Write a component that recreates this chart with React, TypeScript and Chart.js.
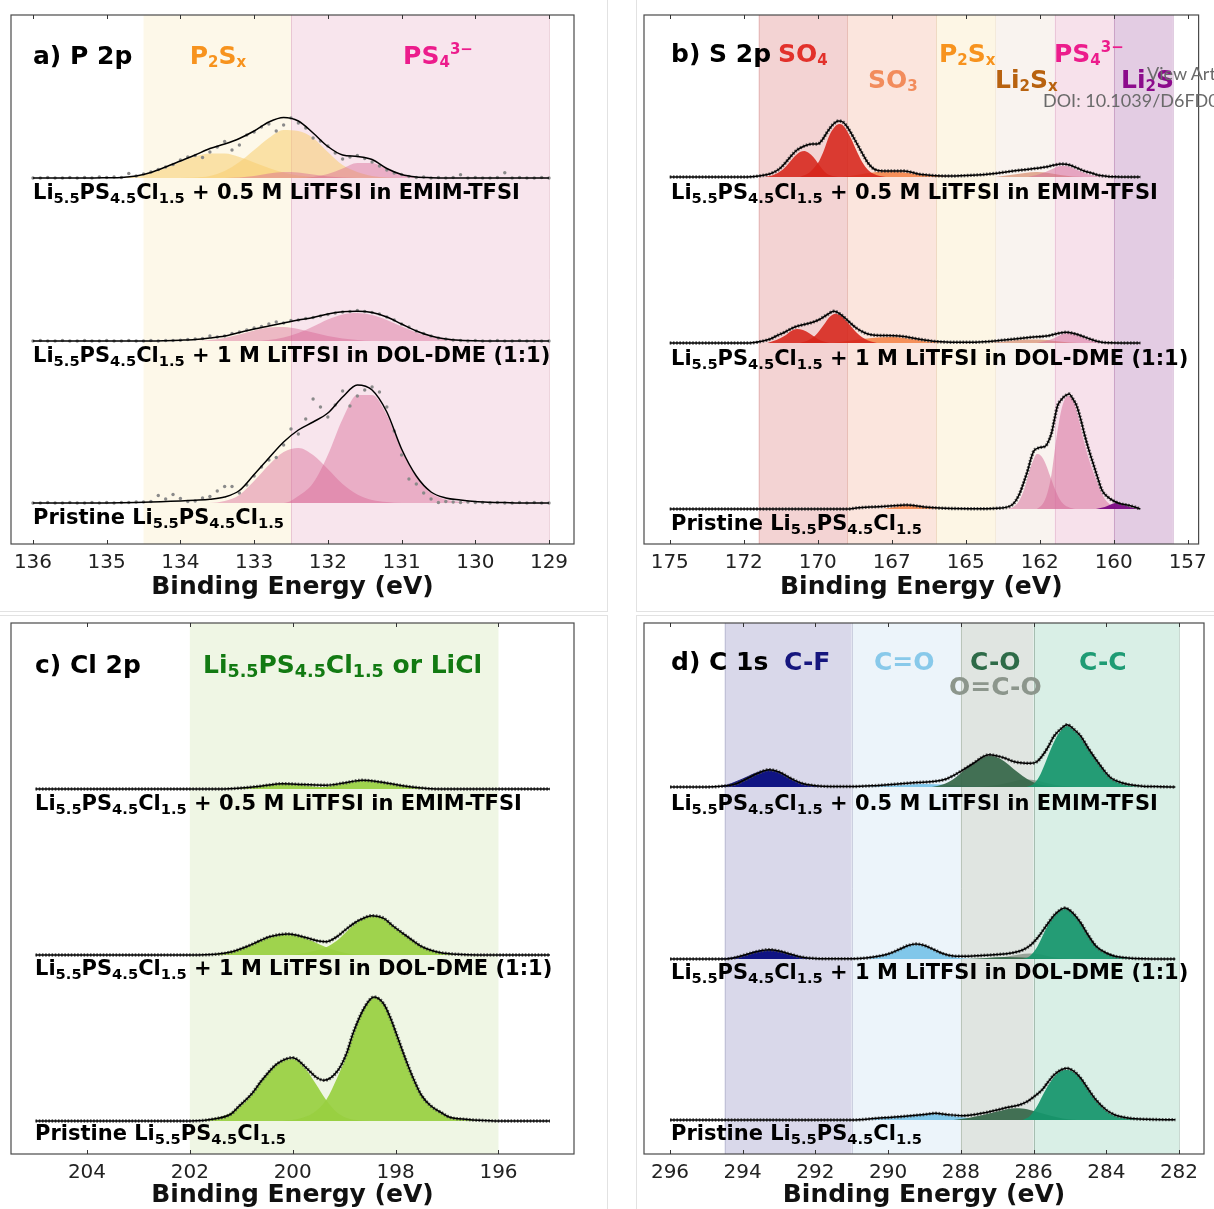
import React, { useEffect, useRef } from 'react';
import { Chart, registerables } from 'chart.js';

Chart.register(...registerables);

const FONT = '"DejaVu Sans", "Liberation Sans", sans-serif';
type Pair = [number, number];
type Seg = [string, string?];

// ======================= Panel a : P 2p =======================
const aEnergy = [136.0, 135.8, 135.6, 135.4, 135.2, 135.0, 134.8, 134.6, 134.4, 134.2, 134.0, 133.8, 133.6, 133.4, 133.2, 133.0, 132.8, 132.6, 132.4, 132.2, 132.0, 131.8, 131.6, 131.4, 131.2, 131.0, 130.8, 130.6, 130.4, 130.2, 130.0, 129.8, 129.6, 129.4, 129.2, 129.0];
const aDotEnergy = [136.0, 135.9, 135.8, 135.7, 135.6, 135.5, 135.4, 135.3, 135.2, 135.1, 135.0, 134.9, 134.8, 134.7, 134.6, 134.5, 134.4, 134.3, 134.2, 134.1, 134.0, 133.9, 133.8, 133.7, 133.6, 133.5, 133.4, 133.3, 133.2, 133.1, 133.0, 132.9, 132.8, 132.7, 132.6, 132.5, 132.4, 132.3, 132.2, 132.1, 132.0, 131.9, 131.8, 131.7, 131.6, 131.5, 131.4, 131.3, 131.2, 131.1, 131.0, 130.9, 130.8, 130.7, 130.6, 130.5, 130.4, 130.3, 130.2, 130.1, 130.0, 129.9, 129.8, 129.7, 129.6, 129.5, 129.4, 129.3, 129.2, 129.1, 129.0];
const aOffsetEmim = 366;
const aOffsetDol = 203;
const aOffsetPristine = 41;

const aEmimEnv = [0, 0, 0, 0, 0, 0.2, 0.5, 2, 5.5, 11, 17, 23, 29.5, 34, 39.5, 47, 56, 60.5, 57, 45, 31.5, 23, 21.5, 18.5, 9.5, 3.5, 1, 0.3, 0, 0, 0, 0, 0, 0, 0, 0];
const aEmimP2SxLow = [0, 0, 0, 0, 0, 0, 0.5, 2, 5, 10, 16, 21.5, 24.5, 24.5, 21, 15.5, 10, 5.5, 2.5, 1, 0, 0, 0, 0, 0, 0, 0, 0, 0, 0, 0, 0, 0, 0, 0, 0];
const aEmimP2SxHigh = [0, 0, 0, 0, 0, 0, 0, 0, 0, 0, 0, 0.5, 2, 7, 16, 28, 40, 48, 47, 40, 26, 13, 6, 2, 0.5, 0, 0, 0, 0, 0, 0, 0, 0, 0, 0, 0];
const aEmimPS4a = [0, 0, 0, 0, 0, 0, 0, 0, 0, 0, 0, 0, 0, 0, 0.5, 2, 4.5, 6, 5.5, 3.5, 1.5, 0.5, 0, 0, 0, 0, 0, 0, 0, 0, 0, 0, 0, 0, 0, 0];
const aEmimPS4b = [0, 0, 0, 0, 0, 0, 0, 0, 0, 0, 0, 0, 0, 0, 0, 0, 0, 0, 0, 1, 4, 9.5, 15, 15, 9, 3.5, 1, 0, 0, 0, 0, 0, 0, 0, 0, 0];
const aEmimDots = [0, 0, 0.5, 0, 0, 0.5, 0, 0.5, 0, 1, 0.5, 1, 0.5, 4.5, 2, 4, 6, 8.5, 11, 13.5, 18, 21, 22.5, 20.5, 26, 31, 36.5, 28, 33, 43, 46, 51, 54, 47, 53, 60, 55, 50, 40, 37, 32, 25, 19, 21, 22.5, 19.5, 16, 12, 8, 5, 3.5, 1.5, 0.5, 1, 0, 0.5, 0, 0.5, 3.3, 0, 0.5, 0, 0, 0.5, 5.3, 0, 0.5, 0, 0, 0.5, 0];

const aDolEnv = [0, 0, 0, 0, 0, 0, 0, 0, 0, 0.3, 0.8, 1.5, 3, 5, 8.5, 12, 15, 18, 21, 23.5, 27, 29.3, 29.8, 28.5, 24, 17, 10, 5, 2, 0.7, 0.2, 0, 0, 0, 0, 0];
const aDolPS4a = [0, 0, 0, 0, 0, 0, 0, 0, 0, 0, 0, 0, 1, 3, 6.5, 10.5, 13.5, 14, 12, 8.5, 5, 2.5, 1, 0, 0, 0, 0, 0, 0, 0, 0, 0, 0, 0, 0, 0];
const aDolPS4b = [0, 0, 0, 0, 0, 0, 0, 0, 0, 0, 0, 0, 0, 0, 0, 0, 1, 3.5, 8, 14.5, 21.5, 26.5, 28, 26, 21, 14.5, 8.5, 4, 1.5, 0.5, 0, 0, 0, 0, 0, 0];
const aDolDots = [0, 0.5, 0, 0, 0.5, 0, 0, 0.5, 0, 0, 0.5, 0, 0, 0.5, 0, 0, 0.5, 0, 0.5, 0.5, 0.8, 1.5, 2, 2.5, 5, 4, 5, 7.5, 9, 11, 13, 14.5, 17, 19, 18, 20.5, 21, 22.5, 23.5, 25, 26.5, 28, 29, 29.5, 30.5, 29.5, 28.5, 27, 24, 21, 17, 14, 10, 7.5, 5, 3, 2, 1, 0.5, 0, 0.5, 0, 0, 0.5, 0, 0, 0.5, 0, 0, 0, 0];

const aPristineEnv = [0, 0, 0, 0, 0, 0.1, 0.3, 0.6, 1, 1.5, 2, 2.7, 3.7, 6, 12.5, 28.5, 45, 61, 73, 81, 90, 106, 118, 113, 91, 54, 27, 11, 5, 3, 1.5, 0.8, 0.4, 0, 0, 0];
const aPristinePS4a = [0, 0, 0, 0, 0, 0, 0, 0, 0, 0, 0, 0, 0, 2, 8, 22, 38, 51, 55, 48, 34, 19, 8.5, 3, 1, 0, 0, 0, 0, 0, 0, 0, 0, 0, 0, 0];
const aPristinePS4b = [0, 0, 0, 0, 0, 0, 0, 0, 0, 0, 0, 0, 0, 0, 0, 0, 0, 0, 7, 20, 48, 84, 108, 108, 88, 53, 26, 10, 3.5, 1, 0, 0, 0, 0, 0, 0];
const aPristineDots = [0, 0, 0.5, 0, 0, 0.5, 0, 0, 0.5, 0, 0.5, 0, 0.5, 0.5, 1, 1, 1.5, 7.5, 4, 8.5, 4.5, 1.5, 2, 5, 6.5, 12, 16.5, 16.5, 10, 18, 27, 36, 43, 45.5, 58, 74, 69, 84, 104, 96, 86, 98, 112, 97, 107, 113, 116, 111, 96, 72, 48, 24, 19, 10, 4, 0.5, 1.5, 1, 0.5, 1, 0.5, 0.5, 0, 0.5, 0, 0, 0.5, 0, 0.5, 0, 0];

// ======================= Panel b : S 2p =======================
const bOffsetEmim = 367;
const bOffsetDol = 201;
const bOffsetPristine = 35;

const bEmimEnv: Pair[] = [[175.0, 0], [172.4, 0], [172.0, 1], [171.6, 3.3], [171.3, 8], [171.1, 14], [170.9, 21], [170.7, 27], [170.45, 31], [170.2, 33], [170.0, 33], [169.85, 37], [169.7, 44], [169.5, 52], [169.3, 56], [169.15, 55], [169.0, 50], [168.8, 40], [168.5, 24], [168.3, 14], [168.1, 8], [167.8, 6], [167.5, 6], [167.1, 6], [166.8, 4.5], [166.6, 3], [166.3, 2], [166.0, 1.3], [165.5, 1], [164.8, 1.7], [164.1, 3.3], [163.4, 6], [162.8, 8], [162.3, 10], [162.0, 12], [161.8, 13], [161.6, 12.8], [161.4, 11], [161.2, 8.5], [161.0, 6], [160.7, 3.5], [160.5, 1.7], [160.2, 0.6], [160.0, 0.3], [159.1, 0]];
const bEmimSO4a: Pair[] = [[171.8, 0], [171.5, 2], [171.2, 7], [171.0, 13], [170.8, 20], [170.6, 25], [170.45, 26], [170.3, 24], [170.15, 20], [170.0, 14], [169.85, 8], [169.7, 3.5], [169.5, 1], [169.3, 0]];
const bEmimSO4b: Pair[] = [[170.6, 0], [170.3, 4], [170.1, 10], [169.95, 16], [169.8, 26], [169.6, 42], [169.4, 51], [169.25, 53], [169.1, 50], [168.9, 40], [168.7, 27], [168.5, 15], [168.3, 7], [168.1, 3], [167.9, 1], [167.7, 0]];
const bEmimSO3: Pair[] = [[169.2, 0], [168.8, 1.5], [168.4, 3.5], [168.0, 5], [167.6, 5.5], [167.2, 5], [166.8, 3.5], [166.4, 2], [166.0, 1], [165.5, 0]];
const bEmimLi2Sx: Pair[] = [[164.0, 0], [163.5, 2], [163.0, 4], [162.6, 5], [162.2, 4], [161.8, 2], [161.4, 0.5], [161.0, 0]];
const bEmimPS4: Pair[] = [[162.9, 0], [162.6, 2], [162.3, 5], [162.0, 9], [161.8, 11], [161.6, 11], [161.4, 9], [161.2, 6.5], [161.0, 4], [160.7, 1.5], [160.4, 0.3], [160.2, 0]];

const bDolEnv: Pair[] = [[175.0, 0], [172.3, 0], [171.9, 1.7], [171.6, 4], [171.4, 7], [171.1, 11], [170.85, 15], [170.6, 17.5], [170.35, 19.3], [170.15, 21], [169.98, 23], [169.7, 28], [169.45, 31.7], [169.25, 29], [169.08, 25], [168.9, 20], [168.7, 15], [168.4, 10], [168.2, 8.3], [167.8, 7.5], [167.4, 7.3], [167.1, 6.5], [166.8, 5], [166.4, 3], [166.1, 1.7], [165.5, 0.8], [164.8, 0.7], [164.2, 1.5], [163.6, 3.3], [162.8, 5.7], [162.2, 7.3], [161.9, 9.5], [161.6, 10.7], [161.35, 9.5], [161.1, 7.3], [160.8, 4], [160.5, 1.3], [160.2, 0.3], [159.1, 0]];
const bDolSO4a: Pair[] = [[171.7, 0], [171.4, 3], [171.1, 7.5], [170.9, 12], [170.7, 14], [170.5, 13], [170.3, 10], [170.15, 7], [170.0, 4], [169.8, 1.5], [169.6, 0]];
const bDolSO4b: Pair[] = [[170.6, 0], [170.3, 3], [170.1, 7], [169.95, 12], [169.8, 18], [169.6, 26], [169.4, 29.3], [169.2, 27], [169.0, 21], [168.8, 14], [168.6, 8], [168.4, 4], [168.2, 1.5], [168.0, 0]];
const bDolSO3: Pair[] = [[169.5, 0], [169.0, 2], [168.5, 4], [168.0, 5.5], [167.6, 6], [167.2, 5.5], [166.8, 4], [166.4, 2], [166.0, 0.8], [165.5, 0]];
const bDolLi2Sx: Pair[] = [[164.2, 0], [163.6, 2], [163.0, 3.5], [162.5, 3.5], [162.0, 2], [161.5, 0.5], [161.2, 0]];
const bDolPS4: Pair[] = [[162.6, 0], [162.3, 2], [162.0, 5], [161.8, 8], [161.6, 10], [161.4, 9.5], [161.2, 7.5], [161.0, 5], [160.7, 2], [160.4, 0.5], [160.2, 0]];

const bPristineEnv: Pair[] = [[175.0, 0], [169.0, 0], [168.7, 1], [168.2, 2], [167.7, 2.7], [167.0, 4], [166.4, 2], [165.7, 0.7], [164.5, 0.3], [163.8, 1], [163.4, 5], [163.2, 14], [163.0, 30], [162.9, 39], [162.8, 50], [162.7, 58], [162.55, 61], [162.4, 62], [162.3, 63], [162.2, 68], [162.1, 76], [162.0, 90], [161.9, 103], [161.75, 110], [161.65, 113], [161.5, 115], [161.4, 111], [161.25, 103], [161.1, 88], [161.0, 76], [160.85, 60], [160.7, 46], [160.55, 32], [160.4, 19], [160.2, 12], [160.0, 8], [159.8, 5.5], [159.5, 3.7], [159.3, 2], [159.1, 0]];
const bPristineSO3: Pair[] = [[167.8, 0], [167.4, 2], [167.0, 3.5], [166.6, 2.5], [166.2, 1], [165.8, 0]];
const bPristinePS4a: Pair[] = [[163.6, 0], [163.4, 2], [163.2, 8], [163.0, 22], [162.85, 38], [162.7, 50], [162.6, 55], [162.45, 53], [162.3, 45], [162.15, 33], [162.0, 21], [161.85, 11], [161.7, 5], [161.5, 1.5], [161.3, 0]];
const bPristinePS4b: Pair[] = [[162.6, 0], [162.4, 5], [162.25, 15], [162.1, 35], [161.95, 68], [161.8, 95], [161.65, 110], [161.5, 113], [161.35, 107], [161.2, 92], [161.05, 73], [160.9, 56], [160.75, 42], [160.6, 30], [160.45, 19], [160.3, 10], [160.1, 4], [159.9, 1], [159.7, 0]];
const bPristineLi2S: Pair[] = [[160.6, 0], [160.3, 2], [160.1, 4.5], [159.95, 6], [159.8, 5.5], [159.6, 3.5], [159.4, 1.5], [159.2, 0.5], [159.1, 0]];

// ======================= Panel c : Cl 2p =======================
const cOffsetEmim = 365;
const cOffsetDol = 199;
const cOffsetPristine = 33;

const cEmimEnv: Pair[] = [[205.0, 0], [201.4, 0], [201.0, 1], [200.6, 3], [200.2, 5.3], [199.8, 4.5], [199.35, 3.7], [199.0, 6], [198.65, 8.7], [198.3, 7], [197.9, 3.5], [197.5, 1], [197.2, 0], [195.0, 0]];
const cEmimA: Pair[] = [[201.3, 0], [200.9, 1.5], [200.5, 3.8], [200.15, 5], [199.8, 3.8], [199.4, 1.5], [199.0, 0]];
const cEmimB: Pair[] = [[199.8, 0], [199.4, 2], [199.0, 5.5], [198.65, 8.5], [198.3, 6.5], [197.9, 3], [197.5, 0.8], [197.2, 0]];

const cDolEnv: Pair[] = [[205.0, 0], [202.0, 0], [201.5, 0.7], [201.2, 3], [200.9, 8.3], [200.65, 14], [200.45, 18.3], [200.1, 21], [199.9, 19.5], [199.7, 16.7], [199.5, 14], [199.35, 13.3], [199.15, 18], [198.98, 25], [198.8, 32], [198.67, 35.7], [198.46, 39.3], [198.23, 36.7], [198.05, 29], [197.86, 21.7], [197.6, 12], [197.49, 8.3], [197.3, 4.5], [197.12, 2.3], [196.8, 0.7], [196.4, 0], [195.0, 0]];
const cDolA: Pair[] = [[201.8, 0], [201.5, 1], [201.2, 3.5], [200.9, 8], [200.65, 13.5], [200.4, 18], [200.1, 20.5], [199.85, 18.5], [199.6, 13.5], [199.35, 7.7], [199.1, 3.5], [198.9, 1.2], [198.6, 0]];
const cDolB: Pair[] = [[200.0, 0], [199.7, 2.5], [199.5, 5], [199.35, 7.7], [199.15, 14], [198.98, 22], [198.8, 30.5], [198.6, 37], [198.45, 39], [198.25, 36.5], [198.05, 29], [197.86, 21.5], [197.6, 12], [197.4, 6.5], [197.2, 3], [196.9, 1], [196.6, 0]];

const cPristineEnv: Pair[] = [[205.0, 0], [202.0, 0], [201.5, 2.3], [201.2, 7], [201.06, 14], [200.8, 27], [200.6, 40.7], [200.3, 57.3], [200.0, 63.3], [199.72, 52.3], [199.55, 44], [199.39, 40.7], [199.12, 50.7], [198.95, 68], [198.83, 87.3], [198.6, 114], [198.42, 124], [198.23, 117], [198.1, 103], [197.94, 80.7], [197.8, 61], [197.64, 40.7], [197.5, 26], [197.33, 15.7], [197.1, 8], [196.96, 4], [196.6, 1.5], [196.38, 0.7], [196.0, 0], [195.0, 0]];
const cPristineA: Pair[] = [[202.0, 0], [201.6, 2], [201.3, 6], [201.06, 13], [200.8, 26], [200.6, 40], [200.3, 56.5], [200.0, 62], [199.75, 52], [199.55, 37], [199.35, 21], [199.15, 9], [198.95, 3], [198.7, 0.5], [198.5, 0]];
const cPristineB: Pair[] = [[200.2, 0], [199.9, 2], [199.6, 8], [199.35, 21], [199.12, 45], [198.95, 66], [198.83, 85], [198.6, 113], [198.42, 124], [198.23, 116.5], [198.1, 103], [197.94, 80], [197.8, 60], [197.64, 40], [197.5, 25.5], [197.33, 15], [197.1, 7], [196.9, 3], [196.6, 1], [196.3, 0]];

// ======================= Panel d : C 1s =======================
const dOffsetEmim = 367;
const dOffsetDol = 195;
const dOffsetPristine = 34;

const dEmimEnv: Pair[] = [[296.0, 0], [295.0, 0], [294.6, 0.7], [294.2, 3], [293.9, 8], [293.6, 13.5], [293.28, 17.3], [293.0, 15], [292.7, 9], [292.4, 4], [292.0, 1.3], [291.6, 0.5], [291.0, 0.5], [290.4, 1.3], [290.0, 2.3], [289.65, 3.3], [289.2, 4.5], [288.7, 5.7], [288.4, 8], [288.19, 11.7], [287.9, 18], [287.64, 24], [287.4, 30], [287.23, 32.3], [287.0, 31], [286.8, 29], [286.55, 25.5], [286.37, 24.3], [286.07, 23.7], [285.9, 25.5], [285.77, 30.7], [285.6, 40], [285.44, 50.7], [285.25, 58], [285.08, 62.3], [284.9, 58], [284.7, 50.7], [284.5, 39], [284.28, 27.3], [284.05, 16], [283.87, 9], [283.6, 4.5], [283.35, 2.3], [283.0, 0.8], [282.5, 0.3], [282.1, 0]];
const dEmimCF: Pair[] = [[294.9, 0], [294.6, 1], [294.3, 4], [294.0, 8.5], [293.7, 13.5], [293.45, 16.5], [293.28, 17], [293.1, 16], [292.85, 12], [292.6, 7], [292.3, 3], [292.0, 1], [291.7, 0]];
const dEmimCdO: Pair[] = [[290.8, 0], [290.2, 1], [289.6, 2], [289.0, 3], [288.5, 2.5], [288.0, 1.5], [287.5, 0.5], [287.0, 0]];
const dEmimCO: Pair[] = [[288.8, 0], [288.5, 2.5], [288.2, 8], [287.9, 17], [287.6, 25], [287.4, 29.5], [287.23, 31.5], [287.05, 30.5], [286.8, 25.5], [286.55, 18], [286.3, 11], [286.05, 5.5], [285.8, 2.2], [285.5, 0.5], [285.3, 0]];
const dEmimOCO: Pair[] = [[287.5, 0], [287.0, 2], [286.6, 5], [286.3, 7.5], [286.0, 7], [285.7, 4.5], [285.4, 2], [285.0, 0.5], [284.8, 0]];
const dEmimCC: Pair[] = [[286.2, 0], [286.0, 3], [285.85, 10], [285.7, 22], [285.5, 40], [285.3, 54], [285.08, 61], [284.9, 57], [284.7, 49], [284.5, 38], [284.28, 26], [284.05, 15], [283.85, 8], [283.6, 3.5], [283.35, 1.2], [283.0, 0]];

const dDolEnv: Pair[] = [[296.0, 0], [294.5, 0], [294.2, 1.5], [293.9, 4.5], [293.6, 7.5], [293.28, 9.3], [293.0, 8], [292.7, 5], [292.4, 2], [292.0, 0.5], [291.5, 0.2], [290.8, 0.5], [290.4, 2], [290.0, 5], [289.7, 9.5], [289.45, 13.5], [289.23, 15], [289.0, 13.5], [288.75, 9.5], [288.5, 5.5], [288.2, 3], [287.9, 2.7], [287.56, 3.3], [287.0, 4.5], [286.6, 6], [286.3, 9], [286.07, 14.3], [285.85, 23], [285.66, 32.7], [285.4, 45], [285.14, 51], [284.95, 47], [284.7, 36], [284.5, 24], [284.28, 12.7], [284.0, 6], [283.76, 2.7], [283.4, 1], [283.0, 0.3], [282.1, 0]];
const dDolCF: Pair[] = [[294.7, 0], [294.3, 1.5], [294.0, 4], [293.7, 7.5], [293.4, 9], [293.2, 9], [292.9, 7], [292.6, 4], [292.3, 1.5], [292.0, 0.3], [291.8, 0]];
const dDolCdO: Pair[] = [[290.6, 0], [290.3, 2], [290.0, 5], [289.7, 9.5], [289.45, 13.5], [289.23, 14.5], [289.0, 13], [288.75, 9], [288.5, 5], [288.2, 2], [287.9, 0.5], [287.6, 0]];
const dDolCO: Pair[] = [[287.8, 0], [287.3, 1], [286.8, 2], [286.3, 1.5], [285.8, 0.5], [285.5, 0]];
const dDolOCO: Pair[] = [[287.2, 0], [286.8, 2], [286.4, 4.5], [286.1, 5.5], [285.8, 4.5], [285.5, 2], [285.2, 0.5], [285.0, 0]];
const dDolCC: Pair[] = [[286.3, 0], [286.1, 3], [285.9, 12], [285.7, 27], [285.5, 40], [285.3, 48], [285.12, 50], [284.95, 47], [284.7, 36], [284.5, 24], [284.28, 12.5], [284.0, 5.5], [283.76, 2.2], [283.4, 0.5], [283.1, 0]];

const dPristineEnv: Pair[] = [[296.0, 0], [291.0, 0], [290.3, 1.7], [289.6, 3.5], [289.0, 5.5], [288.7, 6.7], [288.4, 5.5], [287.97, 4.3], [287.6, 5.5], [287.33, 7.3], [287.0, 10], [286.7, 12.7], [286.4, 15], [286.18, 18.3], [286.0, 23], [285.77, 30], [285.6, 38], [285.44, 45], [285.25, 50], [285.08, 51.7], [284.9, 49], [284.7, 41.7], [284.5, 31], [284.28, 20], [284.0, 10], [283.76, 5], [283.4, 2], [282.9, 0.7], [282.1, 0.3]];
const dPristineCdO: Pair[] = [[290.6, 0], [290.2, 1.5], [289.8, 3], [289.3, 4.8], [288.8, 6], [288.4, 5], [288.0, 3], [287.6, 1.2], [287.2, 0.3], [287.0, 0]];
const dPristineCO: Pair[] = [[288.2, 0], [287.8, 2], [287.4, 5], [287.0, 8.5], [286.6, 11.5], [286.4, 11.7], [286.1, 10], [285.8, 7], [285.5, 4], [285.2, 1.5], [284.9, 0.3], [284.7, 0]];
const dPristineCC: Pair[] = [[286.3, 0], [286.1, 4], [285.9, 14], [285.7, 28], [285.5, 40], [285.3, 48], [285.08, 50], [284.9, 48], [284.7, 41], [284.5, 30], [284.28, 19], [284.0, 9], [283.76, 4], [283.4, 1.2], [283.0, 0.3], [282.6, 0]];

// ======================= Text =======================
const LPSC: Seg[] = [['Li'], ['5.5', 's'], ['PS'], ['4.5', 's'], ['Cl'], ['1.5', 's']];
const labelEmim: Seg[] = [...LPSC, [' + 0.5 M LiTFSI in EMIM-TFSI']];
const labelDol: Seg[] = [...LPSC, [' + 1 M LiTFSI in DOL-DME (1:1)']];
const labelPristine: Seg[] = [['Pristine '], ...LPSC];
const segP2Sx: Seg[] = [['P'], ['2', 's'], ['S'], ['x', 's']];
const segPS4: Seg[] = [['PS'], ['4', 's'], ['3\u2212', 'p']];
const segSO4: Seg[] = [['SO'], ['4', 's']];
const segSO3: Seg[] = [['SO'], ['3', 's']];
const segLi2Sx: Seg[] = [['Li'], ['2', 's'], ['S'], ['x', 's']];
const segLi2S: Seg[] = [['Li'], ['2', 's'], ['S']];
const axisTitle = 'Binding Energy (eV)';

// ======================= helpers =======================
const zip = (xs: number[], ys: number[]): Pair[] => xs.map((x, i) => [x, ys[i]] as Pair);
const toPts = (pairs: Pair[], base: number) => pairs.map(([x, h]) => ({ x, y: base + h }));

function comp(pairs: Pair[], base: number, color: string) {
  return {
    data: toPts(pairs, base),
    borderColor: 'rgba(0,0,0,0)',
    borderWidth: 0,
    backgroundColor: color,
    fill: { value: base },
    pointRadius: 0,
    cubicInterpolationMode: 'monotone',
  };
}
function envelope(pairs: Pair[], base: number) {
  return {
    data: toPts(pairs, base),
    borderColor: '#000',
    borderWidth: 1.5,
    fill: false,
    pointRadius: 0,
    cubicInterpolationMode: 'monotone',
    order: 0,
  };
}
function dottedTrace(pairs: Pair[], base: number) {
  return {
    data: toPts(pairs, base),
    borderColor: 'rgba(75,75,75,0.9)',
    borderWidth: 3.4,
    borderDash: [1.6, 1.6],
    fill: false,
    pointRadius: 0,
    cubicInterpolationMode: 'monotone',
    order: 1,
  };
}
function dots(pairs: Pair[], base: number) {
  return {
    data: toPts(pairs, base),
    showLine: false,
    pointRadius: 1.7,
    pointBackgroundColor: '#8a8a8a',
    pointBorderWidth: 0,
    borderColor: 'rgba(0,0,0,0)',
    fill: false,
    order: 1,
  };
}
function withOrder(comps: any[]) {
  return comps.map((d, i) => ({ ...d, order: 200 - i }));
}

function drawRich(ctx: CanvasRenderingContext2D, x: number, y: number, segs: Seg[], size: number, color: string, align: string, style: string) {
  const subScale = style === 'math' ? 0.7 : 0.6;
  const subShift = style === 'math' ? 0.17 : 0.1;
  const supShift = 0.42;
  const parts = segs.map(([t, k]) => ({ t, k, fs: k ? size * subScale : size, w: 0 }));
  let total = 0;
  for (const p of parts) {
    ctx.font = `bold ${p.fs}px ${FONT}`;
    p.w = ctx.measureText(p.t).width;
    total += p.w;
  }
  let cx = align === 'center' ? x - total / 2 : x;
  ctx.fillStyle = color;
  ctx.textAlign = 'left';
  ctx.textBaseline = 'alphabetic';
  for (const p of parts) {
    ctx.font = `bold ${p.fs}px ${FONT}`;
    const dy = p.k === 's' ? size * subShift : p.k === 'p' ? -size * supShift : 0;
    ctx.fillText(p.t, cx, y + dy);
    cx += p.w;
  }
}

interface Band { from: number; to: number; color: string; edge?: string }
interface Label { x: number; y: number; segs: Seg[]; size: number; color: string; align?: string; style?: string }
interface PanelCfg {
  id: string; left: number; top: number; w: number; h: number;
  area: { left: number; top: number; right: number; bottom: number };
  min: number; max: number; step: number; axisH: number;
  bands: Band[]; labels: Label[]; datasets: any[];
}

function decorPlugin(cfg: PanelCfg) {
  return {
    id: 'decor_' + cfg.id,
    beforeDatasetsDraw(chart: any) {
      const { ctx, chartArea: ca } = chart;
      const xs = chart.scales.x;
      ctx.save();
      ctx.beginPath();
      ctx.rect(ca.left, ca.top, ca.right - ca.left, ca.bottom - ca.top);
      ctx.clip();
      for (const b of cfg.bands) {
        const x1 = xs.getPixelForValue(b.from);
        const x2 = xs.getPixelForValue(b.to);
        ctx.fillStyle = b.color;
        ctx.fillRect(Math.min(x1, x2), ca.top, Math.abs(x2 - x1), ca.bottom - ca.top);
      }
      for (const b of cfg.bands) {
        if (!b.edge) continue;
        ctx.strokeStyle = b.edge;
        ctx.lineWidth = 1;
        for (const v of [b.from, b.to]) {
          const px = Math.round(xs.getPixelForValue(v)) + 0.5;
          ctx.beginPath();
          ctx.moveTo(px, ca.top);
          ctx.lineTo(px, ca.bottom);
          ctx.stroke();
        }
      }
      ctx.restore();
    },
    afterDraw(chart: any) {
      const { ctx, chartArea: ca } = chart;
      const xs = chart.scales.x;
      ctx.save();
      ctx.strokeStyle = '#4a4a4a';
      ctx.lineWidth = 1.2;
      ctx.strokeRect(ca.left, ca.top, ca.right - ca.left, ca.bottom - ca.top);
      ctx.strokeStyle = '#333';
      ctx.lineWidth = 1;
      for (const t of xs.ticks) {
        const px = Math.round(xs.getPixelForValue(t.value)) + 0.5;
        ctx.beginPath();
        ctx.moveTo(px, ca.top);
        ctx.lineTo(px, ca.top + 4);
        ctx.moveTo(px, ca.bottom);
        ctx.lineTo(px, ca.bottom - 4);
        ctx.stroke();
      }
      for (const l of cfg.labels) {
        drawRich(ctx, l.x - cfg.left, l.y - cfg.top, l.segs, l.size, l.color, l.align || 'left', l.style || 'uni');
      }
      ctx.restore();
    },
  };
}

function buildConfig(cfg: PanelCfg): any {
  const a = cfg.area;
  return {
    type: 'line',
    data: { datasets: cfg.datasets },
    options: {
      animation: false,
      responsive: false,
      devicePixelRatio: 1,
      events: [],
      layout: {
        padding: {
          left: a.left - cfg.left,
          right: cfg.left + cfg.w - a.right,
          top: a.top - cfg.top,
          bottom: cfg.top + cfg.h - a.bottom - cfg.axisH,
        },
      },
      plugins: { legend: { display: false }, tooltip: { enabled: false } },
      scales: {
        x: {
          type: 'linear',
          reverse: true,
          min: cfg.min,
          max: cfg.max,
          afterFit: (s: any) => { s.height = cfg.axisH; },
          grid: { display: false, drawTicks: false },
          border: { display: false },
          ticks: {
            stepSize: cfg.step,
            autoSkip: false,
            maxRotation: 0,
            includeBounds: false,
            padding: 7,
            color: '#222',
            font: { family: FONT, size: 20 },
            callback: (v: any) => String(Math.trunc(Number(v))),
          },
          title: {
            display: true,
            text: axisTitle,
            color: '#111',
            font: { family: FONT, size: 25, weight: 'bold' },
            padding: { top: 0, bottom: 0 },
          },
        },
        y: { display: false, min: 0, max: a.bottom - a.top },
      },
    },
    plugins: [decorPlugin(cfg)],
  };
}

// ======================= panel configs =======================
const P2SX = 'rgba(248,205,112,0.55)';
const PS4A = 'rgba(214,98,146,0.42)';

const panelA: PanelCfg = {
  id: 'a', left: 0, top: 0, w: 607, h: 611,
  area: { left: 11, top: 15, right: 574, bottom: 544 },
  min: 128.661, max: 136.298, step: 1, axisH: 58.4,
  bands: [
    { from: 134.5, to: 132.5, color: '#fdf8e9' },
    { from: 132.5, to: 129, color: '#f8e5ed', edge: 'rgba(215,160,180,0.45)' },
  ],
  labels: [
    { x: 33, y: 64, segs: [['a) P 2p']], size: 25, color: '#000' },
    { x: 218, y: 64, segs: segP2Sx, size: 25, color: '#f7931e', align: 'center' },
    { x: 438, y: 64, segs: segPS4, size: 25, color: '#ec1c8c', align: 'center' },
    { x: 33, y: 199, segs: labelEmim, size: 21, color: '#000', style: 'math' },
    { x: 33, y: 362, segs: labelDol, size: 21, color: '#000', style: 'math' },
    { x: 33, y: 524, segs: labelPristine, size: 21, color: '#000', style: 'math' },
  ],
  datasets: [
    envelope(zip(aEnergy, aEmimEnv), aOffsetEmim),
    envelope(zip(aEnergy, aDolEnv), aOffsetDol),
    envelope(zip(aEnergy, aPristineEnv), aOffsetPristine),
    dots(zip(aDotEnergy, aEmimDots), aOffsetEmim),
    dots(zip(aDotEnergy, aDolDots), aOffsetDol),
    dots(zip(aDotEnergy, aPristineDots), aOffsetPristine),
    ...withOrder([
      comp(zip(aEnergy, aEmimP2SxLow), aOffsetEmim, P2SX),
      comp(zip(aEnergy, aEmimP2SxHigh), aOffsetEmim, P2SX),
      comp(zip(aEnergy, aEmimPS4a), aOffsetEmim, PS4A),
      comp(zip(aEnergy, aEmimPS4b), aOffsetEmim, PS4A),
      comp(zip(aEnergy, aDolPS4a), aOffsetDol, PS4A),
      comp(zip(aEnergy, aDolPS4b), aOffsetDol, PS4A),
      comp(zip(aEnergy, aPristinePS4a), aOffsetPristine, PS4A),
      comp(zip(aEnergy, aPristinePS4b), aOffsetPristine, PS4A),
    ]),
  ],
};

const SO4C = 'rgba(214,36,26,0.88)';
const SO3C = 'rgba(243,128,66,0.85)';
const LI2SXC = 'rgba(206,112,72,0.55)';
const PS4C = 'rgba(214,105,152,0.5)';
const LI2SC = 'rgba(118,0,128,0.9)';

const panelB: PanelCfg = {
  id: 'b', left: 636, top: 0, w: 578, h: 611,
  area: { left: 644, top: 15, right: 1204, bottom: 544 },
  min: 157.132, max: 175.87, step: 2.5, axisH: 58.4,
  bands: [
    { from: 172, to: 169, color: '#f3d3d3', edge: 'rgba(205,140,140,0.35)' },
    { from: 169, to: 166, color: '#fbe5dd', edge: 'rgba(225,170,150,0.3)' },
    { from: 166, to: 164, color: '#fdf6e5', edge: 'rgba(230,210,170,0.3)' },
    { from: 164, to: 162, color: '#f9f3ef' },
    { from: 162, to: 160, color: '#f7e1eb', edge: 'rgba(210,150,180,0.35)' },
    { from: 160, to: 158, color: '#e3cce3', edge: 'rgba(180,130,180,0.4)' },
  ],
  labels: [
    { x: 671, y: 62, segs: [['b) S 2p']], size: 25, color: '#000' },
    { x: 778, y: 62, segs: segSO4, size: 25, color: '#e2312b' },
    { x: 868, y: 88, segs: segSO3, size: 25, color: '#f28c5c' },
    { x: 939, y: 62, segs: segP2Sx, size: 25, color: '#f7931e' },
    { x: 995, y: 88, segs: segLi2Sx, size: 25, color: '#b8620f' },
    { x: 1054, y: 62, segs: segPS4, size: 25, color: '#ec1c8c' },
    { x: 1121, y: 88, segs: segLi2S, size: 25, color: '#8c0a8c' },
    { x: 671, y: 199, segs: labelEmim, size: 21, color: '#000', style: 'math' },
    { x: 671, y: 365, segs: labelDol, size: 21, color: '#000', style: 'math' },
    { x: 671, y: 530, segs: labelPristine, size: 21, color: '#000', style: 'math' },
  ],
  datasets: [
    envelope(bEmimEnv, bOffsetEmim),
    envelope(bDolEnv, bOffsetDol),
    envelope(bPristineEnv, bOffsetPristine),
    dottedTrace(bEmimEnv, bOffsetEmim),
    dottedTrace(bDolEnv, bOffsetDol),
    dottedTrace(bPristineEnv, bOffsetPristine),
    ...withOrder([
      comp(bEmimSO3, bOffsetEmim, SO3C),
      comp(bEmimLi2Sx, bOffsetEmim, LI2SXC),
      comp(bEmimSO4a, bOffsetEmim, SO4C),
      comp(bEmimSO4b, bOffsetEmim, SO4C),
      comp(bEmimPS4, bOffsetEmim, PS4C),
      comp(bDolSO3, bOffsetDol, SO3C),
      comp(bDolLi2Sx, bOffsetDol, LI2SXC),
      comp(bDolSO4a, bOffsetDol, SO4C),
      comp(bDolSO4b, bOffsetDol, SO4C),
      comp(bDolPS4, bOffsetDol, PS4C),
      comp(bPristineSO3, bOffsetPristine, SO3C),
      comp(bPristinePS4a, bOffsetPristine, PS4C),
      comp(bPristinePS4b, bOffsetPristine, PS4C),
      comp(bPristineLi2S, bOffsetPristine, LI2SC),
    ]),
  ],
};

const CLC = 'rgba(152,207,64,0.92)';

const panelC: PanelCfg = {
  id: 'c', left: 0, top: 615, w: 607, h: 600,
  area: { left: 11, top: 623, right: 574, bottom: 1154 },
  min: 194.532, max: 205.477, step: 2, axisH: 56.4,
  bands: [{ from: 202, to: 196, color: '#eff6e4' }],
  labels: [
    { x: 35, y: 673, segs: [['c) Cl 2p']], size: 25, color: '#000' },
    { x: 203, y: 673, segs: [...LPSC, [' or LiCl']], size: 25, color: '#127a12', style: 'math' },
    { x: 35, y: 810, segs: labelEmim, size: 21, color: '#000', style: 'math' },
    { x: 35, y: 975, segs: labelDol, size: 21, color: '#000', style: 'math' },
    { x: 35, y: 1140, segs: labelPristine, size: 21, color: '#000', style: 'math' },
  ],
  datasets: [
    envelope(cEmimEnv, cOffsetEmim),
    envelope(cDolEnv, cOffsetDol),
    envelope(cPristineEnv, cOffsetPristine),
    dottedTrace(cEmimEnv, cOffsetEmim),
    dottedTrace(cDolEnv, cOffsetDol),
    dottedTrace(cPristineEnv, cOffsetPristine),
    ...withOrder([
      comp(cEmimA, cOffsetEmim, CLC),
      comp(cEmimB, cOffsetEmim, CLC),
      comp(cDolA, cOffsetDol, CLC),
      comp(cDolB, cOffsetDol, CLC),
      comp(cPristineA, cOffsetPristine, CLC),
      comp(cPristineB, cOffsetPristine, CLC),
    ]),
  ],
};

const CFC = 'rgba(5,10,125,0.95)';
const CDOC = 'rgba(110,190,230,0.85)';
const COC = 'rgba(52,102,72,0.92)';
const OCOC = 'rgba(128,140,128,0.75)';
const CCC = 'rgba(22,150,108,0.93)';

const panelD: PanelCfg = {
  id: 'd', left: 636, top: 615, w: 578, h: 600,
  area: { left: 644, top: 623, right: 1204, bottom: 1154 },
  min: 281.312, max: 296.715, step: 2, axisH: 56.4,
  bands: [
    { from: 294.5, to: 291, color: '#d9d8ea', edge: 'rgba(170,170,195,0.5)' },
    { from: 291, to: 288, color: '#ecf4fa' },
    { from: 288, to: 286, color: '#e0e5e1', edge: 'rgba(160,175,160,0.6)' },
    { from: 286, to: 282, color: '#d9efe6', edge: 'rgba(150,180,165,0.5)' },
  ],
  labels: [
    { x: 671, y: 670, segs: [['d) C 1s']], size: 25, color: '#000' },
    { x: 784, y: 670, segs: [['C-F']], size: 25, color: '#16167e' },
    { x: 874, y: 670, segs: [['C=O']], size: 25, color: '#88c9ea' },
    { x: 970, y: 670, segs: [['C-O']], size: 25, color: '#2e6b48' },
    { x: 949, y: 695, segs: [['O=C-O']], size: 25, color: '#8c968c' },
    { x: 1079, y: 670, segs: [['C-C']], size: 25, color: '#1e9b74' },
    { x: 671, y: 810, segs: labelEmim, size: 21, color: '#000', style: 'math' },
    { x: 671, y: 979, segs: labelDol, size: 21, color: '#000', style: 'math' },
    { x: 671, y: 1140, segs: labelPristine, size: 21, color: '#000', style: 'math' },
  ],
  datasets: [
    envelope(dEmimEnv, dOffsetEmim),
    envelope(dDolEnv, dOffsetDol),
    envelope(dPristineEnv, dOffsetPristine),
    dottedTrace(dEmimEnv, dOffsetEmim),
    dottedTrace(dDolEnv, dOffsetDol),
    dottedTrace(dPristineEnv, dOffsetPristine),
    ...withOrder([
      comp(dEmimCdO, dOffsetEmim, CDOC),
      comp(dEmimOCO, dOffsetEmim, OCOC),
      comp(dEmimCO, dOffsetEmim, COC),
      comp(dEmimCC, dOffsetEmim, CCC),
      comp(dEmimCF, dOffsetEmim, CFC),
      comp(dDolCdO, dOffsetDol, CDOC),
      comp(dDolOCO, dOffsetDol, OCOC),
      comp(dDolCO, dOffsetDol, COC),
      comp(dDolCC, dOffsetDol, CCC),
      comp(dDolCF, dOffsetDol, CFC),
      comp(dPristineCdO, dOffsetPristine, CDOC),
      comp(dPristineCO, dOffsetPristine, COC),
      comp(dPristineCC, dOffsetPristine, CCC),
    ]),
  ],
};

const panels = [panelA, panelB, panelC, panelD];

function Panel({ cfg }: { cfg: PanelCfg }) {
  const ref = useRef<HTMLCanvasElement>(null);
  useEffect(() => {
    if (!ref.current) return;
    const chart = new Chart(ref.current, buildConfig(cfg));
    return () => chart.destroy();
  }, [cfg]);
  return (
    <canvas
      ref={ref}
      width={cfg.w}
      height={cfg.h}
      style={{ position: 'absolute', left: cfg.left, top: cfg.top, width: cfg.w, height: cfg.h }}
    />
  );
}

const SEP = '#e2e2e2';
const separators = [
  { left: 607, top: 0, width: 1, height: 611 },
  { left: 0, top: 611, width: 608, height: 1 },
  { left: 0, top: 615, width: 608, height: 1 },
  { left: 607, top: 615, width: 1, height: 594 },
  { left: 636, top: 0, width: 1, height: 611 },
  { left: 636, top: 611, width: 578, height: 1 },
  { left: 636, top: 615, width: 578, height: 1 },
  { left: 636, top: 615, width: 1, height: 594 },
];

export default function App() {
  return (
    <div style={{ position: 'fixed', left: 0, top: 0, width: 1214, height: 1209, overflow: 'hidden', background: '#fff' }}>
      {panels.map((p) => <Panel key={p.id} cfg={p} />)}
      {separators.map((s, i) => (
        <div key={i} style={{ position: 'absolute', ...s, background: SEP }} />
      ))}
      <div style={{ position: 'absolute', left: 1147, top: 63, font: '18px Lato, "Open Sans", sans-serif', color: '#6a6a6a', whiteSpace: 'nowrap', lineHeight: '20px' }}>View Article Online</div>
      <div style={{ position: 'absolute', left: 1043, top: 90, font: '18px Lato, "Open Sans", sans-serif', color: '#6a6a6a', whiteSpace: 'nowrap', lineHeight: '20px' }}>DOI: 10.1039/D6FD0</div>
    </div>
  );
}
